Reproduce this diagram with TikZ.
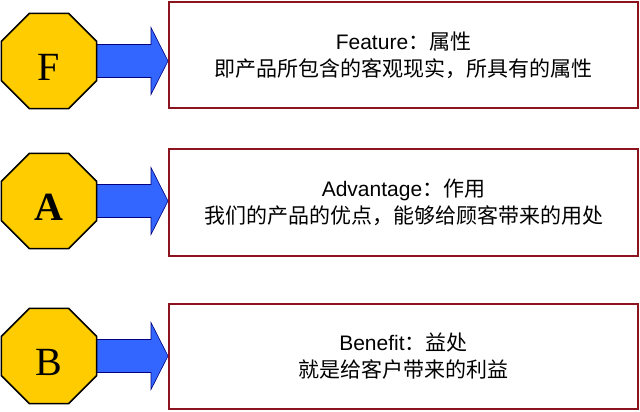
\documentclass[tikz,border=0pt]{standalone}
\usepackage{fontspec}
\setmainfont{Liberation Sans}
\newfontfamily\cjk{Noto Sans CJK SC}
\newfontfamily\letterfont{Liberation Serif}
\usepackage{tikz}
\usetikzlibrary{shapes.geometric,backgrounds,calc}
\definecolor{octgold}{RGB}{255,204,0}
\definecolor{arrowblue}{RGB}{51,102,255}
\definecolor{boxred}{RGB}{140,20,30}
\newcommand{\zh}[1]{{\cjk #1}}
\tikzset{
octa/.style={regular polygon, regular polygon sides=8, minimum size=103pt, inner sep=0pt, fill=octgold, draw=black, line width=1.5pt, font=\letterfont\fontsize{40}{40}\selectfont, text height=40pt, text depth=1.5pt},
infobox/.style={rectangle, draw=boxred, line width=2pt, fill=white, minimum width=469pt, minimum height=105pt, align=center, font=\fontsize{21}{27}\selectfont, execute at begin node=\rule{0pt}{24pt}},
fatarrow/.style={fill=arrowblue, draw=blue!50!black, line width=0.6pt}
}

\begin{document}
\begin{tikzpicture}[x=1pt,y=-1pt]
\useasboundingbox (0,0) rectangle (640,412);
\node[octa] (f) at (49,61) {F};
\node[octa] (a) at (49,201) {\bfseries A};
\node[octa] (b) at (49,356) {B};
\node[infobox] (feat) at (403.5,55) {Feature\zh{：属性}\\\zh{即产品所包含的客观现实，所具有的属性}};
\node[infobox, minimum height=107pt] (adv) at (403.5,202.5) {Advantage\zh{：作用}\\\zh{我们的产品的优点，能够给顾客带来的用处}};
\node[infobox] (ben) at (403.5,356.5) {Benefit\zh{：益处}\\\zh{就是给客户带来的利益}};
\begin{scope}[on background layer]
\draw[fatarrow] ($(f.center)+(0,-16.5)$) -- ($(f.center -| feat.west)+(-17,-16.5)$) -- ++(0,-17) -- (f.center -| feat.west) -- ++(-17,33.5) -- ++(0,-17) -- ($(f.center)+(0,16.5)$) -- cycle;
\draw[fatarrow] ($(a.center)+(0,-16.5)$) -- ($(a.center -| adv.west)+(-17,-16.5)$) -- ++(0,-17) -- (a.center -| adv.west) -- ++(-17,33.5) -- ++(0,-17) -- ($(a.center)+(0,16.5)$) -- cycle;
\draw[fatarrow] ($(b.center)+(0,-16.5)$) -- ($(b.center -| ben.west)+(-17,-16.5)$) -- ++(0,-17) -- (b.center -| ben.west) -- ++(-17,33.5) -- ++(0,-17) -- ($(b.center)+(0,16.5)$) -- cycle;
\end{scope}
\end{tikzpicture}
\end{document}
